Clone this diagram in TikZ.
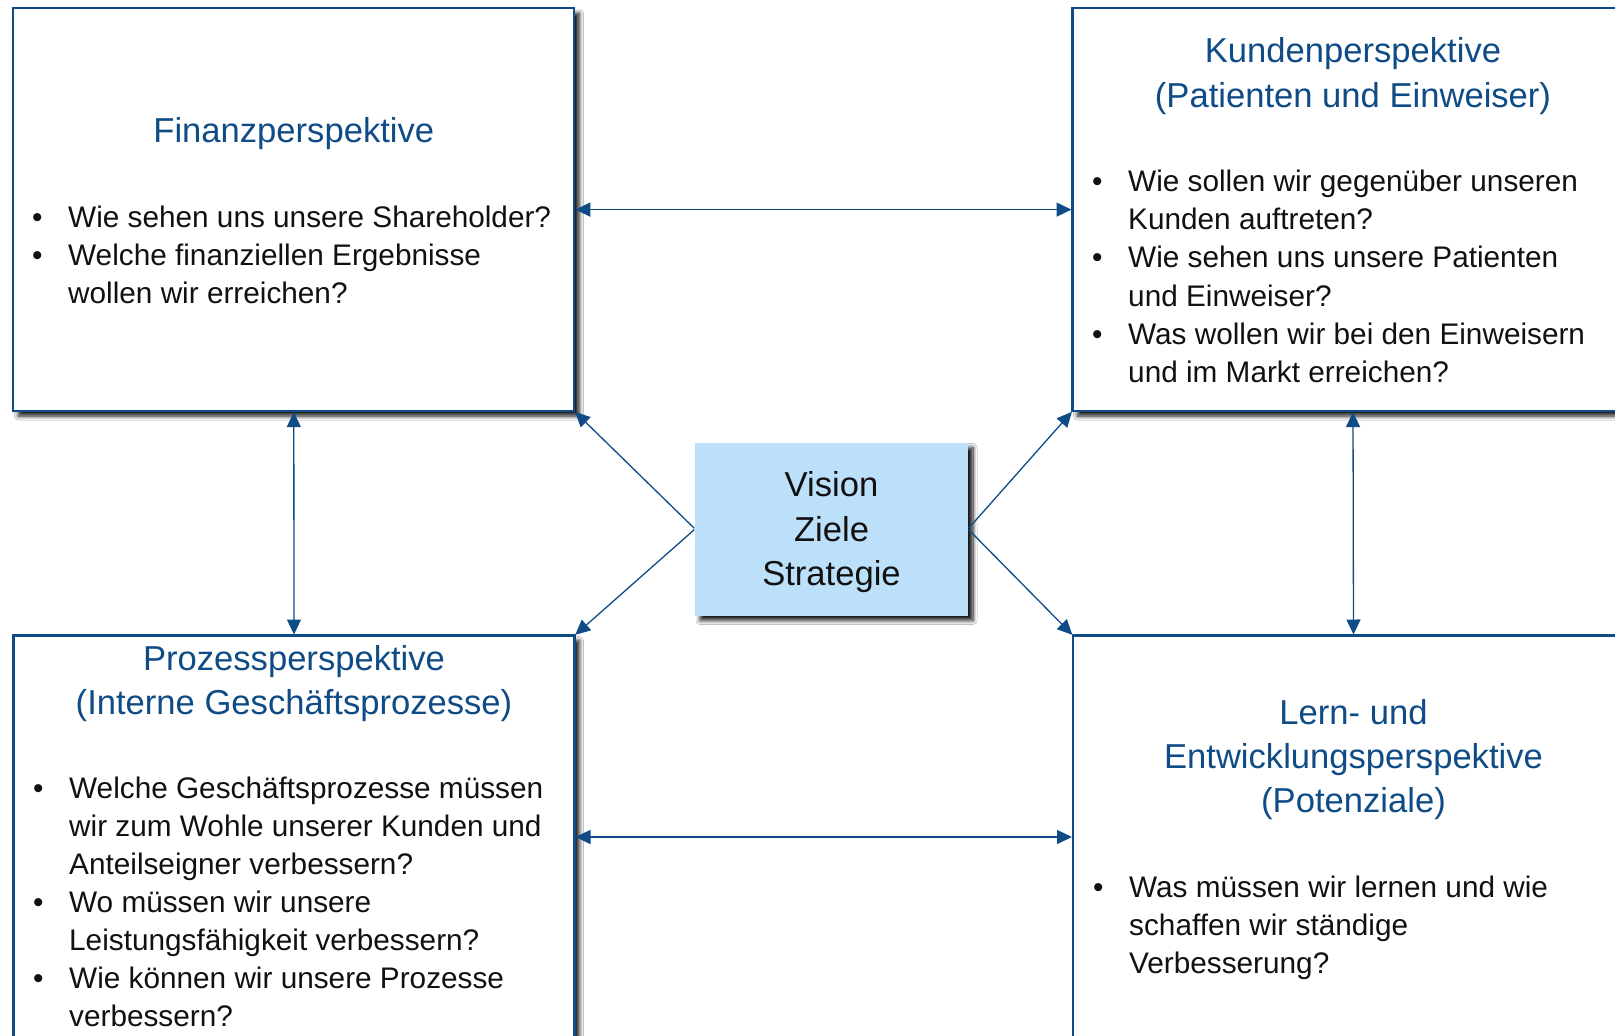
\documentclass[tikz,border=0pt]{standalone}
\usepackage{fontspec}
\setmainfont{Liberation Sans}
\usetikzlibrary{arrows.meta,shadows.blur}
\definecolor{bsc}{HTML}{0F4C86}
\definecolor{visfill}{HTML}{BDE0FA}
\definecolor{bodytxt}{HTML}{111111}
\newcommand{\bsclist}[1]{\begin{tabular}[t]{@{}p{36pt}@{}l@{}}#1\end{tabular}}
\newcommand{\bsctitle}[1]{\begin{tabular}[t]{@{}c@{}}#1\end{tabular}}
\begin{document}
\begin{tikzpicture}[x=1pt,y=-1pt,
  shd/.style={blur shadow={shadow xshift=5pt, shadow yshift=-5pt, shadow blur radius=4pt, shadow blur steps=8, shadow opacity=90}},
  persp/.style={draw=bsc, line width=2.2pt, fill=white, shd,
    minimum width=561pt, minimum height=403pt, inner sep=0pt, outer sep=0pt},
  visbox/.style={fill=visfill, shd,
    minimum width=273pt, minimum height=173pt, inner sep=0pt, outer sep=0pt},
  ttl/.style={anchor=base, inner sep=0pt, text=bsc, font=\fontsize{34.6}{44.3}\selectfont},
  vtxt/.style={anchor=base, inner sep=0pt, text=bodytxt, font=\fontsize{34.6}{44.3}\selectfont},
  body/.style={anchor=base west, inner sep=0pt, text=bodytxt, font=\fontsize{29.75}{38.1}\selectfont},
  conn/.style={draw=bsc, line width=1.3pt, shorten <=1pt, shorten >=1pt},
  both/.style={conn, {Triangle[length=15pt,width=14pt]}-{Triangle[length=15pt,width=14pt]}},
  one/.style={conn, -{Triangle[length=15pt,width=14pt]}}
]
\clip (0,0) rectangle (1615,1036);
\fill[white] (0,0) rectangle (1615,1036);

% boxes
\node[persp] (fin) at (293.8,209.6) {};
\node[persp] (kun) at (1353,209.6) {};
\node[persp] (pro) at (294,837) {};
\node[persp] (lern) at (1353.5,837) {};
\node[visbox] (vis) at (831.5,529) {};

% titles
\node[ttl] (fint) at (293.8,142.7) {\bsctitle{Finanzperspektive}};
\node[ttl] (kunt) at (1353,62.7) {\bsctitle{Kundenperspektive\\(Patienten und Einweiser)}};
\node[ttl] (prot) at (294,670) {\bsctitle{Prozessperspektive\\(Interne Geschäftsprozesse)}};
\node[ttl] (lernt) at (1353.5,724.3) {\bsctitle{Lern- und\\Entwicklungsperspektive\\(Potenziale)}};
\node[vtxt] (vist) at (831.5,496.7) {\bsctitle{Vision\\Ziele\\Strategie}};

% bullet lists
\node[body] (finb) at (32,227.7) {\bsclist{%
  \textbullet & Wie sehen uns unsere Shareholder?\\
  \textbullet & Welche finanziellen Ergebnisse\\
              & wollen wir erreichen?}};
\node[body] (kunb) at (1092,191.7) {\bsclist{%
  \textbullet & Wie sollen wir gegenüber unseren\\
              & Kunden auftreten?\\
  \textbullet & Wie sehen uns unsere Patienten\\
              & und Einweiser?\\
  \textbullet & Was wollen wir bei den Einweisern\\
              & und im Markt erreichen?}};
\node[body] (prob) at (33,798.3) {\bsclist{%
  \textbullet & Welche Geschäftsprozesse müssen\\
              & wir zum Wohle unserer Kunden und\\
              & Anteilseigner verbessern?\\
  \textbullet & Wo müssen wir unsere\\
              & Leistungsfähigkeit verbessern?\\
  \textbullet & Wie können wir unsere Prozesse\\
              & verbessern?}};
\node[body] (lernb) at (1093,897.3) {\bsclist{%
  \textbullet & Was müssen wir lernen und wie\\
              & schaffen wir ständige\\
              & Verbesserung?}};

% connectors
\draw[both] (fin.east) -- (kun.west);
\draw[both] (pro.east) -- (lern.west);
\draw[both] (fin.south) -- (pro.north);
\draw[both] (kun.south) -- (lern.north);
\draw[one] (vis.west) -- (fin.south east);
\draw[one] (vis.west) -- (pro.north east);
\draw[one] (vis.east) -- (kun.south west);
\draw[one] (vis.east) -- (lern.north west);
\end{tikzpicture}
\end{document}
